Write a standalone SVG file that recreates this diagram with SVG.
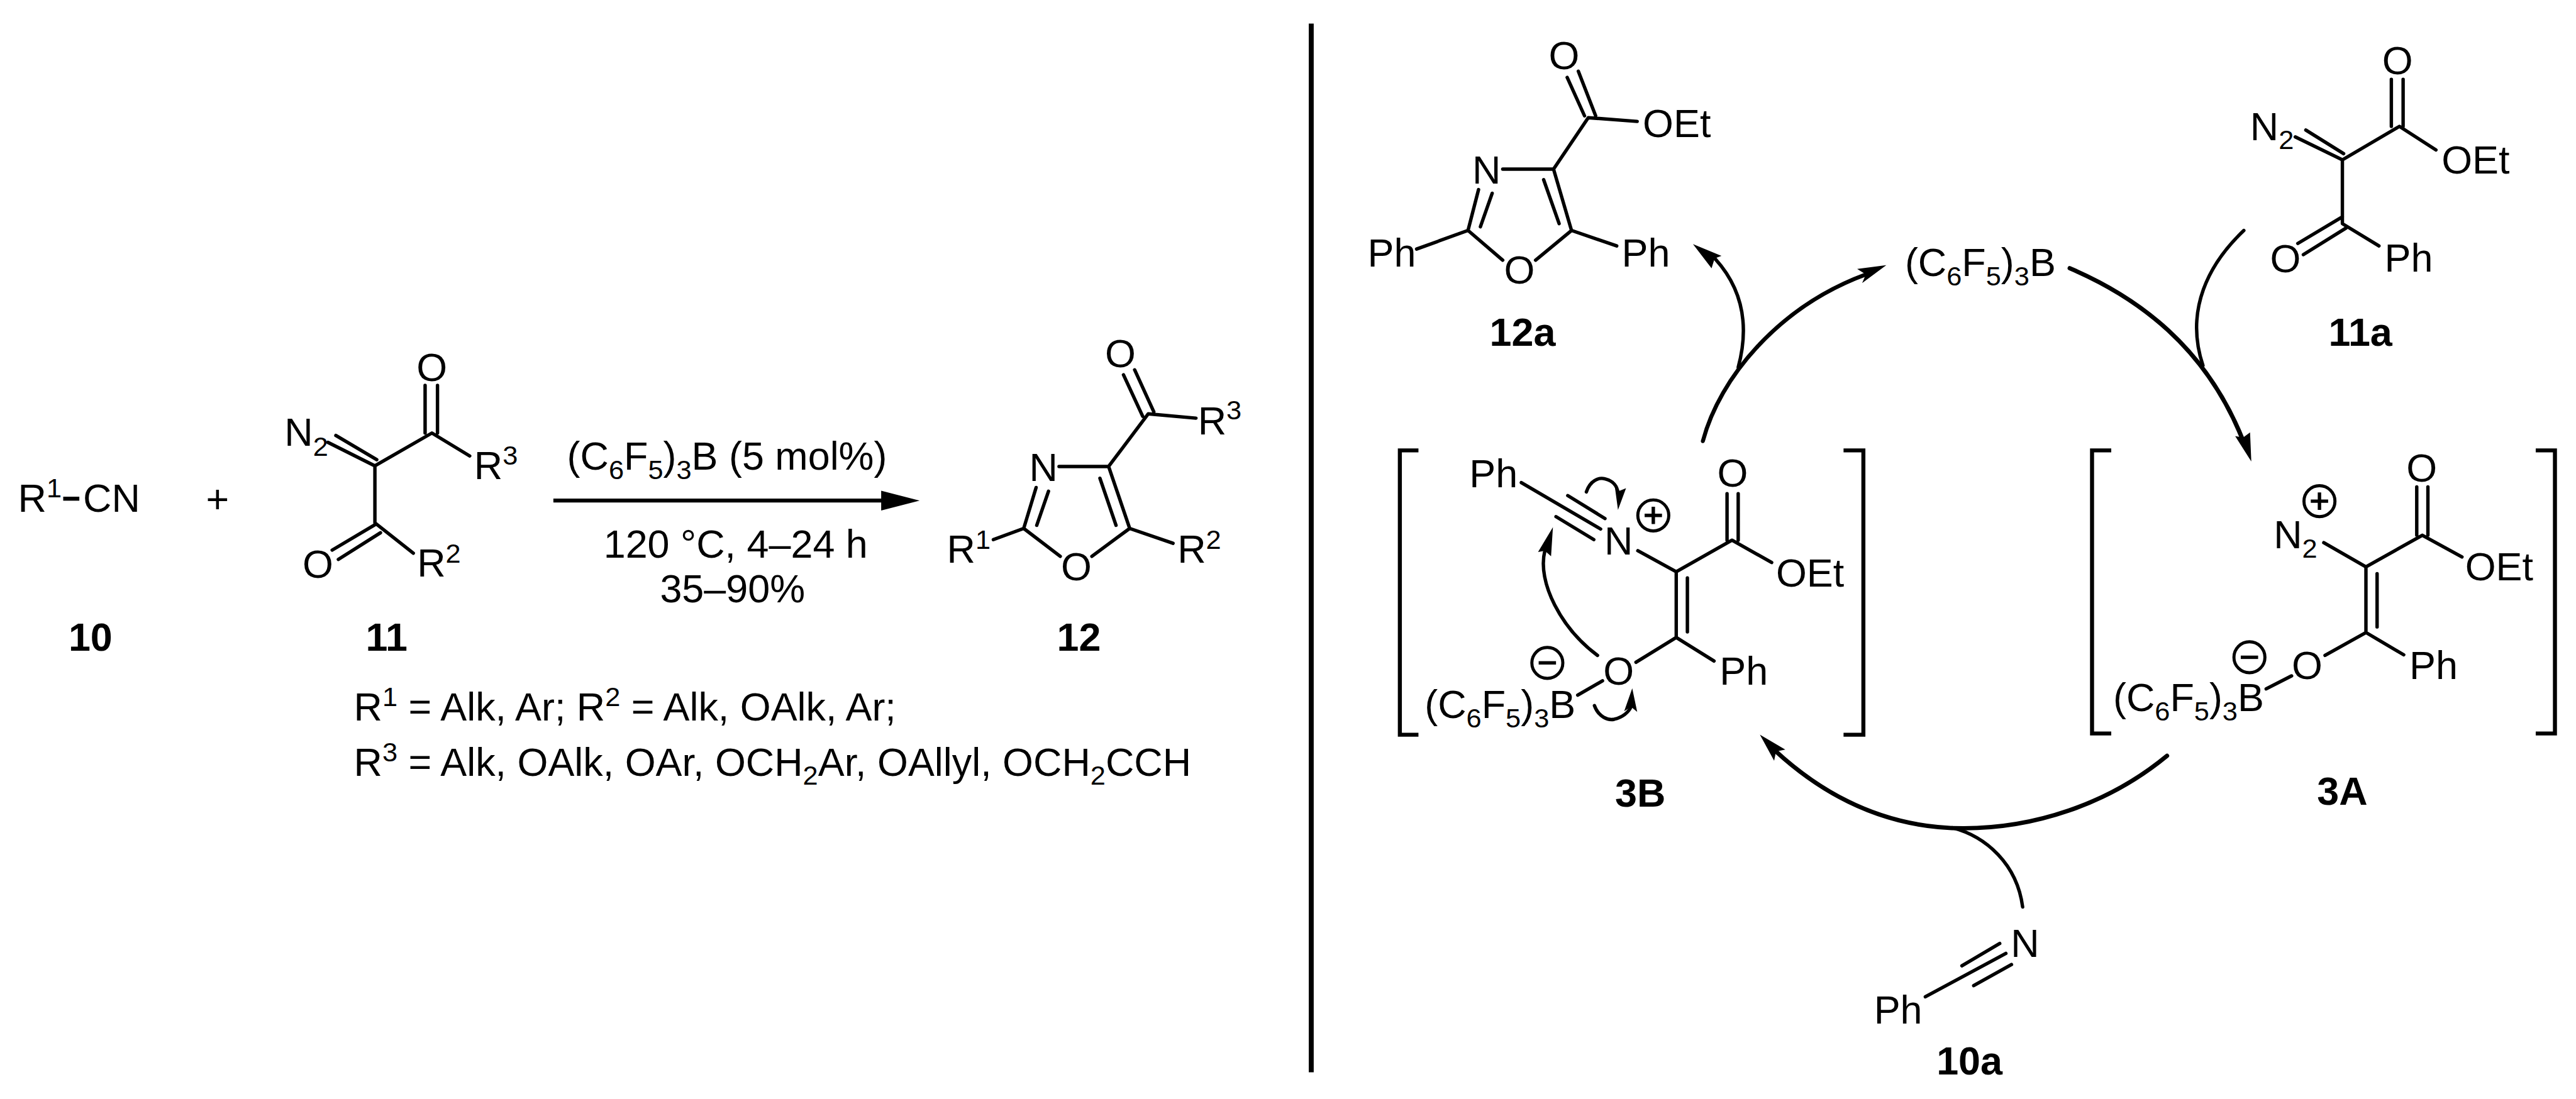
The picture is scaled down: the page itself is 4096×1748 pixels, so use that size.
<svg xmlns="http://www.w3.org/2000/svg" width="4096" height="1748" viewBox="0 0 4096 1748">
<style>
text{font-family:"Liberation Sans",Arial,sans-serif;font-size:63.8px;fill:#000}
.s{font-size:44px}
.b{font-weight:bold}
.m{text-anchor:middle}
.l{fill:none;stroke:#000;stroke-width:5.5;stroke-linecap:round;stroke-linejoin:round}
.k{fill:none;stroke:#000;stroke-width:6.5;stroke-linecap:butt}
.c{fill:none;stroke:#000;stroke-width:6.5;stroke-linecap:round}
.t{fill:none;stroke:#000;stroke-width:7;stroke-linecap:round}
.h{fill:#000;stroke:none}
</style>
<defs>
<g id="plus"><circle r="25" fill="none" stroke="#000" stroke-width="5"/><path d="M-14 0H14M0-14V14" fill="none" stroke="#000" stroke-width="5.5"/></g>
<g id="minus"><circle r="25" fill="none" stroke="#000" stroke-width="5"/><path d="M-14 0H14" fill="none" stroke="#000" stroke-width="5.5"/></g>
</defs>
<rect width="4096" height="1748" fill="#fff"/>
<g transform="scale(0.98533)">
<g id="compound-10">
<text x="29" y="826">R<tspan class="s" dy="-23">1</tspan></text>
<path class="k" d="M102 805H128"/>
<text x="134" y="826">CN</text>
<text class="b m" x="146" y="1050">10</text>
</g>
<text id="plus-sign" class="m" x="351" y="828">+</text>
<g id="compound-11">
<path class="l" d="M605 752L697 699L758 736M686 699V622M706 699V622M605 752L529 714M608 742L542 703M605 752V844L667 893M605 847L536 888M614 860L546 903"/>
<text class="m" x="697" y="615">O</text>
<text x="765" y="773">R<tspan class="s" dy="-23">3</tspan></text>
<text x="459" y="720">N<tspan class="s" dy="16">2</tspan></text>
<text x="673" y="931">R<tspan class="s" dy="-23">2</tspan></text>
<text class="m" x="513" y="933">O</text>
<text class="b m" x="624" y="1050">11</text>
</g>
<g id="reaction-arrow">
<path d="M893 808H1430" stroke="#000" stroke-width="6.5" fill="none"/>
<polygon class="h" points="1484,808 1422,792 1422,824"/>
<text x="915" y="758">(C<tspan class="s" dy="15">6</tspan><tspan dy="-15">F</tspan><tspan class="s" dy="15">5</tspan><tspan dy="-15">)</tspan><tspan class="s" dy="15">3</tspan><tspan dy="-15">B (5 mol%)</tspan></text>
<text x="974" y="900">120 °C, 4–24 h</text>
<text x="1065" y="972">35–90%</text>
</g>
<g id="compound-12">
<path class="l" d="M1709 753H1789L1823 853L1893 877M1775 772L1801 848M1652 853L1672 787M1692 793L1673 848M1652 853L1711 898M1823 853L1762 898M1652 853L1603 871M1789 753L1853 668L1930 675M1844 672L1813 605M1862 665L1831 597"/>
<text class="m" x="1684" y="776">N</text>
<text class="m" x="1737" y="937">O</text>
<text x="1528" y="908">R<tspan class="s" dy="-22">1</tspan></text>
<text x="1900" y="908">R<tspan class="s" dy="-22">2</tspan></text>
<text class="m" x="1808" y="593">O</text>
<text x="1933" y="701">R<tspan class="s" dy="-24">3</tspan></text>
<text class="b m" x="1741" y="1050">12</text>
</g>
<g id="conditions">
<text x="571" y="1163">R<tspan class="s" dy="-23">1</tspan><tspan dy="23"> = Alk, Ar; R</tspan><tspan class="s" dy="-23">2</tspan><tspan dy="23"> = Alk, OAlk, Ar;</tspan></text>
<text x="571" y="1252">R<tspan class="s" dy="-23">3</tspan><tspan dy="23"> = Alk, OAlk, OAr, OCH</tspan><tspan class="s" dy="15">2</tspan><tspan dy="-15">Ar, OAllyl, OCH</tspan><tspan class="s" dy="15">2</tspan><tspan dy="-15">CCH</tspan></text>
</g>
<path id="divider" d="M2116 38V1731" stroke="#000" stroke-width="8" fill="none"/>
<g id="compound-12a">
<path class="l" d="M2425 273H2507L2536 372L2609 397M2491 290L2516 361M2369 372L2386 306M2408 312L2389 366M2369 372L2425 420M2536 372L2478 420M2369 372L2286 402M2507 273L2563 190L2642 196M2557 187L2529 125M2575 187L2547 115"/>
<text class="m" x="2399" y="296">N</text>
<text class="m" x="2452" y="458">O</text>
<text x="2207" y="430">Ph</text>
<text x="2617" y="430">Ph</text>
<text class="m" x="2524" y="112">O</text>
<text x="2651" y="221">OEt</text>
<text class="b m" x="2457" y="558">12a</text>
</g>
<g id="catalyst">
<text x="3074" y="446">(C<tspan class="s" dy="15">6</tspan><tspan dy="-15">F</tspan><tspan class="s" dy="15">5</tspan><tspan dy="-15">)</tspan><tspan class="s" dy="15">3</tspan><tspan dy="-15">B</tspan></text>
</g>
<g id="compound-11a">
<path class="l" d="M3780 258L3872 204L3931 242M3859 204V128M3878 204V128M3780 258L3704 221M3782 248L3721 210M3780 258V361L3839 397M3780 350L3708 393M3786 368L3717 411"/>
<text class="m" x="3869" y="120">O</text>
<text x="3940" y="280">OEt</text>
<text x="3631" y="226">N<tspan class="s" dy="15">2</tspan></text>
<text x="3848" y="438">Ph</text>
<text class="m" x="3688" y="439">O</text>
<text class="b m" x="3809" y="558">11a</text>
</g>
<g id="intermediate-3B">
<path class="k" d="M2289 727H2259V1186H2289M2975 727H3007V1186H2975"/>
<path class="l" d="M2643 889L2705 923L2795 872L2859 908M2787 872V797M2805 872V797M2705 923V1029L2766 1067M2723 933V1020M2705 1029L2640 1069M2546 1122L2586 1099M2455 779L2583 854M2530 800L2590 837M2511 834L2572 871"/>
<text class="m" x="2796" y="786">O</text>
<text x="2866" y="947">OEt</text>
<text class="m" x="2612" y="895">N</text>
<text x="2371" y="787">Ph</text>
<text class="m" x="2612" y="1105">O</text>
<text x="2775" y="1105">Ph</text>
<text x="2299" y="1159">(C<tspan class="s" dy="15">6</tspan><tspan dy="-15">F</tspan><tspan class="s" dy="15">5</tspan><tspan dy="-15">)</tspan><tspan class="s" dy="15">3</tspan><tspan dy="-15">B</tspan></text>
<use href="#plus" x="2668" y="832"/>
<use href="#minus" x="2497" y="1070"/>
<path class="l" d="M2560 794C2566 776 2580 770 2590 773C2603 776 2610 785 2611 796"/>
<polygon class="h" points="2611,823 2606,786 2612,793 2624,788"/>
<path class="l" d="M2578 1058C2520 1015 2480 940 2493 889"/>
<polygon class="h" points="2506,851 2482,891 2493,889 2503,898"/>
<path class="l" d="M2573 1139C2580 1158 2595 1163 2605 1161C2618 1158 2628 1150 2632 1141"/>
<polygon class="h" points="2634,1111 2621,1148 2632,1141 2642,1149"/>
<text class="b m" x="2647" y="1302">3B</text>
</g>
<g id="intermediate-3A">
<path class="k" d="M3407 727H3376V1184H3407M4092 727H4123V1184H4092"/>
<path class="l" d="M3750 876L3818 915L3909 864L3973 899M3900 864V786M3918 864V786M3818 915V1021L3879 1057M3836 926V1012M3818 1021L3752 1058M3657 1112L3698 1091"/>
<text class="m" x="3908" y="777">O</text>
<text x="3978" y="937">OEt</text>
<text x="3669" y="885">N<tspan class="s" dy="15">2</tspan></text>
<text x="3888" y="1096">Ph</text>
<text class="m" x="3723" y="1096">O</text>
<text x="3410" y="1148">(C<tspan class="s" dy="15">6</tspan><tspan dy="-15">F</tspan><tspan class="s" dy="15">5</tspan><tspan dy="-15">)</tspan><tspan class="s" dy="15">3</tspan><tspan dy="-15">B</tspan></text>
<use href="#plus" x="3743" y="809"/>
<use href="#minus" x="3630" y="1061"/>
<text class="b m" x="3780" y="1299">3A</text>
</g>
<g id="compound-10a">
<path class="l" d="M3107 1609L3237 1539M3166 1559L3227 1523M3185 1591L3246 1557"/>
<text class="m" x="3268" y="1545">N</text>
<text x="3024" y="1652">Ph</text>
<text class="b" x="3125" y="1734">10a</text>
</g>
<g id="connectors">
<path class="c" d="M2748 712C2775 610 2870 495 3011 443"/>
<polygon class="h" points="3044,428 2997,434 3011,443 3005,457"/>
<path class="l" d="M2805 593C2822 530 2815 470 2768 418"/>
<polygon class="h" points="2732,394 2778,413 2767,417 2762,433"/>
<path class="t" d="M3340 433C3450 480 3560 560 3620 712"/>
<polygon class="h" points="3633,745 3607,704 3620,706 3631,698"/>
<path class="l" d="M3621 372C3565 425 3525 500 3555 590"/>
<path class="t" d="M3497 1220C3400 1300 3280 1337 3169 1337C3050 1337 2950 1290 2866 1213"/>
<polygon class="h" points="2840,1186 2881,1210 2866,1213 2863,1228"/>
<path class="l" d="M3264 1464C3255 1395 3205 1350 3150 1336"/>
</g>
</g>
</svg>
